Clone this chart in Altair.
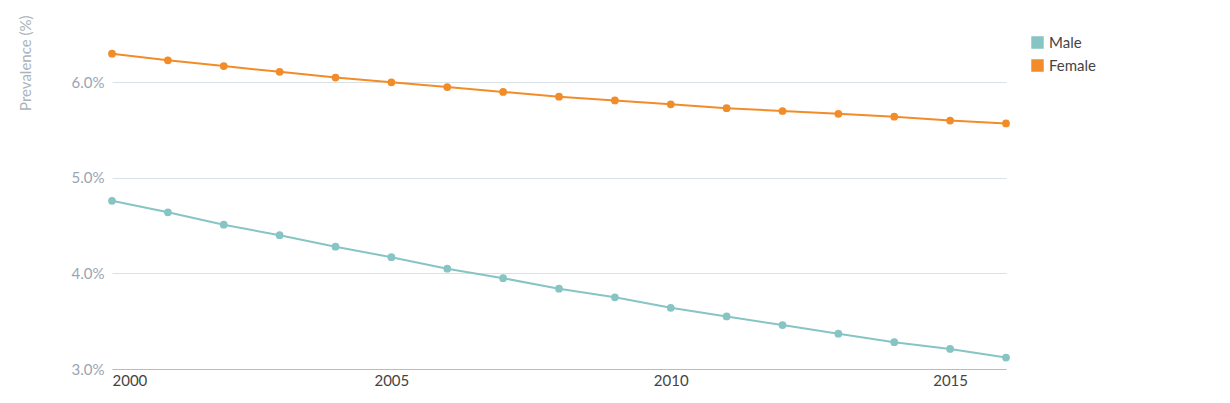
import pandas as pd
import altair as alt

years = list(range(2000, 2017))
male = [4.76, 4.64, 4.51, 4.40, 4.28, 4.17, 4.05, 3.95, 3.84, 3.75, 3.64, 3.55, 3.46, 3.37, 3.28, 3.21, 3.12]
female = [6.30, 6.23, 6.17, 6.11, 6.05, 6.00, 5.95, 5.90, 5.85, 5.81, 5.77, 5.73, 5.70, 5.67, 5.64, 5.60, 5.57]

df = pd.DataFrame({"year": years * 2,
                   "value": male + female,
                   "sex": ["Male"] * len(years) + ["Female"] * len(years)})

font = "Lato"
color = alt.Color("sex:N", scale=alt.Scale(domain=["Male", "Female"], range=["#86c5c3", "#f28c28"]),
                  legend=alt.Legend(title=None, orient="none", legendX=918, legendY=10,
                                    symbolType="square", symbolSize=120, labelFontSize=15,
                                    labelColor="#444", labelFont=font, rowPadding=6))

base = alt.Chart(df).encode(
    x=alt.X("year:Q", scale=alt.Scale(domain=[2000, 2016], nice=False),
            axis=alt.Axis(title=None, values=[2000, 2005, 2010, 2015], format="d", grid=False,
                          ticks=False, domainColor="#b5bcc4", labelColor="#444", labelFontSize=15,
                          labelFont=font, labelPadding=4)),
    y=alt.Y("value:Q", scale=alt.Scale(domain=[3.0, 6.6], nice=False, zero=False),
            axis=alt.Axis(title="Prevalence (%)", titleAnchor="end", titleColor="#aab3bd",
                          titleFontWeight="normal", titleFontSize=15, titleFont=font, titlePadding=53,
                          titleY=-10, titleBaseline="top",
                          values=[3, 4, 5, 6], labelExpr="format(datum.value, '.1f') + '%'",
                          domain=False, ticks=False, gridColor="#d9e0e6", labelColor="#9aa5b1",
                          labelFontSize=15, labelFont=font, labelPadding=8)),
    color=color,
)

chart = (base.mark_line(strokeWidth=2) + base.mark_circle(size=60, opacity=1)).properties(
    width=894, height=344, autosize=alt.AutoSizeParams(type="none"),
    padding={"left": 104, "top": 17, "right": 200, "bottom": 30},
).configure_view(stroke=None)

chart.save("out.html", embed_options={"renderer": "svg", "actions": False})
